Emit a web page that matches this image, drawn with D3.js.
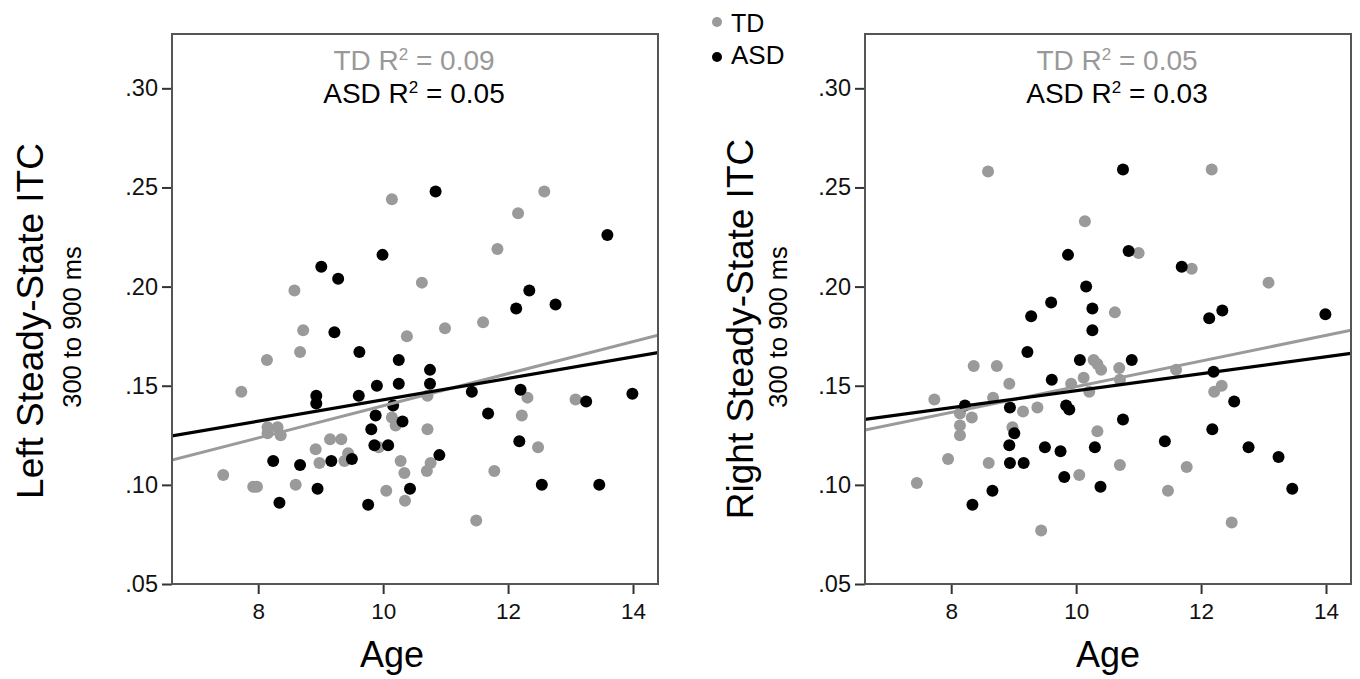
<!DOCTYPE html>
<html>
<head>
<meta charset="utf-8">
<script src="https://cdn.jsdelivr.net/npm/d3@7"></script>
<style>
  html, body { margin: 0; padding: 0; background: #fff; }
  svg { display: block; font-family: "Liberation Sans", Arial, Helvetica, sans-serif; }
</style>
</head>
<body>
<svg id="chart" width="1360" height="679"></svg>
<script>
// ---- data -------------------------------------------------------------
const groups = ["TD", "ASD"];
const ageTicks = [8, 10, 12, 14];
const itcTicks = [0.05, 0.10, 0.15, 0.20, 0.25, 0.30];
const itcTickLabels = [".05", ".10", ".15", ".20", ".25", ".30"];

// [age, ITC] per participant
const leftTD = [
  [7.44,.105],[7.73,.147],[7.92,.099],[7.98,.099],[8.14,.163],[8.58,.198],[8.72,.178],[8.67,.167],
  [8.15,.129],[8.15,.126],[8.31,.129],[8.36,.125],[8.60,.100],[8.92,.118],[8.98,.111],[9.15,.123],
  [9.33,.123],[9.44,.116],[9.38,.112],[10.14,.244],[10.14,.134],[10.20,.130],[9.93,.119],[10.05,.097],
  [10.28,.112],[10.34,.106],[10.35,.092],[10.38,.175],[10.62,.202],[10.71,.145],[10.71,.128],[10.76,.111],
  [10.70,.107],[10.99,.179],[11.60,.182],[11.83,.219],[12.16,.237],[12.58,.248],[12.31,.144],[12.22,.135],
  [12.48,.119],[11.78,.107],[11.49,.082],[13.08,.143]
];
const leftASD = [
  [8.24,.112],[8.34,.091],[8.67,.110],[8.95,.098],[8.93,.145],[8.93,.141],[9.01,.210],[9.28,.204],
  [9.22,.177],[9.17,.112],[9.50,.113],[9.61,.145],[9.62,.167],[9.76,.090],[9.81,.128],[9.86,.120],
  [9.88,.135],[9.90,.150],[9.99,.216],[10.08,.120],[10.16,.140],[10.25,.163],[10.25,.151],[10.31,.132],
  [10.43,.098],[10.75,.158],[10.75,.151],[10.84,.248],[10.90,.115],[11.42,.147],[11.68,.136],[12.13,.189],
  [12.18,.122],[12.20,.148],[12.34,.198],[12.54,.100],[12.76,.191],[13.25,.142],[13.46,.100],[13.59,.226],
  [13.99,.146]
];
const rightTD = [
  [8.59,.258],[10.14,.233],[11.00,.217],[11.85,.209],[12.17,.259],[13.08,.202],[10.62,.187],[8.36,.160],
  [8.73,.160],[8.93,.151],[10.12,.154],[9.92,.151],[10.21,.147],[7.73,.143],[8.67,.144],[8.14,.136],
  [8.33,.134],[9.15,.137],[9.38,.139],[8.14,.130],[8.14,.125],[8.98,.129],[10.34,.127],[7.95,.113],
  [8.60,.111],[7.45,.101],[10.05,.105],[9.44,.077],[10.28,.163],[10.34,.161],[10.40,.158],[10.69,.159],
  [11.60,.158],[10.70,.153],[12.33,.150],[12.21,.147],[10.70,.110],[11.77,.109],[11.47,.097],[12.49,.081]
];
const rightASD = [
  [10.75,.259],[9.87,.216],[10.16,.200],[9.60,.192],[10.26,.189],[9.28,.185],[10.84,.218],[11.69,.210],
  [12.34,.188],[12.13,.184],[13.99,.186],[10.26,.178],[9.22,.167],[10.06,.163],[9.61,.153],[8.22,.140],
  [8.94,.139],[9.84,.140],[9.89,.138],[9.01,.126],[8.93,.120],[9.50,.119],[9.75,.117],[10.30,.119],
  [8.94,.111],[9.16,.111],[8.66,.097],[8.34,.090],[9.81,.104],[10.39,.099],[10.89,.163],[12.20,.157],
  [12.53,.142],[10.75,.133],[12.18,.128],[11.42,.122],[12.76,.119],[13.24,.114],[13.46,.098]
];

// linear fits [intercept, slope], TD then ASD
const fitLeft  = [[0.0589, 0.0081], [0.0889, 0.0054]];
const fitRight = [[0.0847, 0.00648], [0.1047, 0.00428]];
// R squared, TD then ASD
const r2Left  = ["0.09", "0.05"];
const r2Right = ["0.05", "0.03"];

// ---- layout & style ---------------------------------------------------
const GRAY = "#9a9a9a", BLACK = "#000";
const colors = { TD: GRAY, ASD: BLACK };
const plotTop = 34, plotBottom = 584, plotWidth = 486;
const ageDomain = [6.62, 14.4];
const itcDomain = [0.05, 0.3274];

const panels = [
  { title: "Left Steady-State ITC", td: leftTD, asd: leftASD, fit: fitLeft, r2: r2Left,
    left: 172, titleX: 43, titleY: 321, subX: 81, subY: 327, ageX: 392, r2X: 414 },
  { title: "Right Steady-State ITC", td: rightTD, asd: rightASD, fit: fitRight, r2: r2Right,
    left: 865, titleX: 753, titleY: 329, subX: 787, subY: 327, ageX: 1108, r2X: 1117 }
];

const svg = d3.select("#chart");

panels.forEach((p, pi) => {
  const x = d3.scaleLinear().domain(ageDomain).range([p.left, p.left + plotWidth]);
  const y = d3.scaleLinear().domain(itcDomain).range([plotBottom, plotTop]);
  const g = svg.append("g");

  // y axis
  const ya = g.append("g")
    .attr("transform", `translate(${p.left},0)`)
    .call(d3.axisLeft(y).tickValues(itcTicks)
      .tickFormat((d, i) => itcTickLabels[i])
      .tickSize(10).tickSizeOuter(0).tickPadding(4));
  ya.select(".domain").remove();
  ya.selectAll(".tick line").attr("stroke", "#333").attr("stroke-width", 2);
  ya.selectAll(".tick text").attr("font-size", 23.5).attr("fill", "#111")
    .attr("font-family", "Liberation Sans, Arial, sans-serif");

  // x axis
  const xa = g.append("g")
    .attr("transform", `translate(0,${plotBottom})`)
    .call(d3.axisBottom(x).tickValues(ageTicks)
      .tickSize(10).tickSizeOuter(0).tickPadding(9));
  xa.select(".domain").remove();
  xa.selectAll(".tick line").attr("stroke", "#333").attr("stroke-width", 2);
  xa.selectAll(".tick text").attr("font-size", 22.5).attr("fill", "#111")
    .attr("font-family", "Liberation Sans, Arial, sans-serif");

  // clip for the plotting area
  const clipId = "clip" + pi;
  svg.append("clipPath").attr("id", clipId)
    .append("rect").attr("x", p.left).attr("y", plotTop)
    .attr("width", plotWidth).attr("height", plotBottom - plotTop);

  const plot = g.append("g").attr("clip-path", `url(#${clipId})`);

  // participants
  plot.append("g").selectAll("circle").data(p.td).join("circle")
    .attr("cx", d => x(d[0])).attr("cy", d => y(d[1])).attr("r", 6)
    .attr("fill", colors.TD);
  plot.append("g").selectAll("circle").data(p.asd).join("circle")
    .attr("cx", d => x(d[0])).attr("cy", d => y(d[1])).attr("r", 6)
    .attr("fill", colors.ASD);

  // fit lines
  const line = d3.line().x(d => x(d[0])).y(d => y(d[1]));
  p.fit.forEach((f, i) => {
    const pts = ageDomain.map(a => [a, f[0] + f[1] * a]);
    plot.append("path").attr("d", line(pts))
      .attr("fill", "none")
      .attr("stroke", colors[groups[i]])
      .attr("stroke-width", i === 0 ? 3 : 3.2);
  });

  // frame
  g.append("rect")
    .attr("x", p.left).attr("y", plotTop)
    .attr("width", plotWidth).attr("height", plotBottom - plotTop)
    .attr("fill", "none").attr("stroke", "#555").attr("stroke-width", 2);

  // R squared annotations
  groups.forEach((grp, i) => {
    const t = g.append("text")
      .attr("x", p.r2X).attr("y", i === 0 ? 70 : 103)
      .attr("text-anchor", "middle")
      .attr("font-size", 28)
      .attr("fill", i === 0 ? "#999" : "#000");
    t.append("tspan").text(grp + " R");
    t.append("tspan").attr("font-size", 17).attr("dy", -10).text("2");
    t.append("tspan").attr("dy", 10).text(" = " + p.r2[i]);
  });

  // axis titles
  g.append("text")
    .attr("transform", `translate(${p.titleX},${p.titleY}) rotate(-90)`)
    .attr("text-anchor", "middle").attr("font-size", 37).attr("fill", "#000")
    .text(p.title);
  g.append("text")
    .attr("transform", `translate(${p.subX},${p.subY}) rotate(-90)`)
    .attr("text-anchor", "middle").attr("font-size", 25.5).attr("fill", "#000")
    .text("300 to 900 ms");
  g.append("text")
    .attr("x", p.ageX).attr("y", 667)
    .attr("text-anchor", "middle").attr("font-size", 36).attr("fill", "#000")
    .text("Age");
});

// legend
const legend = svg.append("g");
const legendRows = [{ g: "TD", cy: 22, ty: 32, size: 25 }, { g: "ASD", cy: 57, ty: 64, size: 26 }];
legend.selectAll("circle").data(legendRows).join("circle")
  .attr("cx", 717).attr("cy", d => d.cy).attr("r", 5)
  .attr("fill", d => colors[d.g]);
legend.selectAll("text").data(legendRows).join("text")
  .attr("x", 731).attr("y", d => d.ty)
  .attr("font-size", d => d.size).attr("fill", "#000")
  .text(d => d.g);
</script>
</body>
</html>
